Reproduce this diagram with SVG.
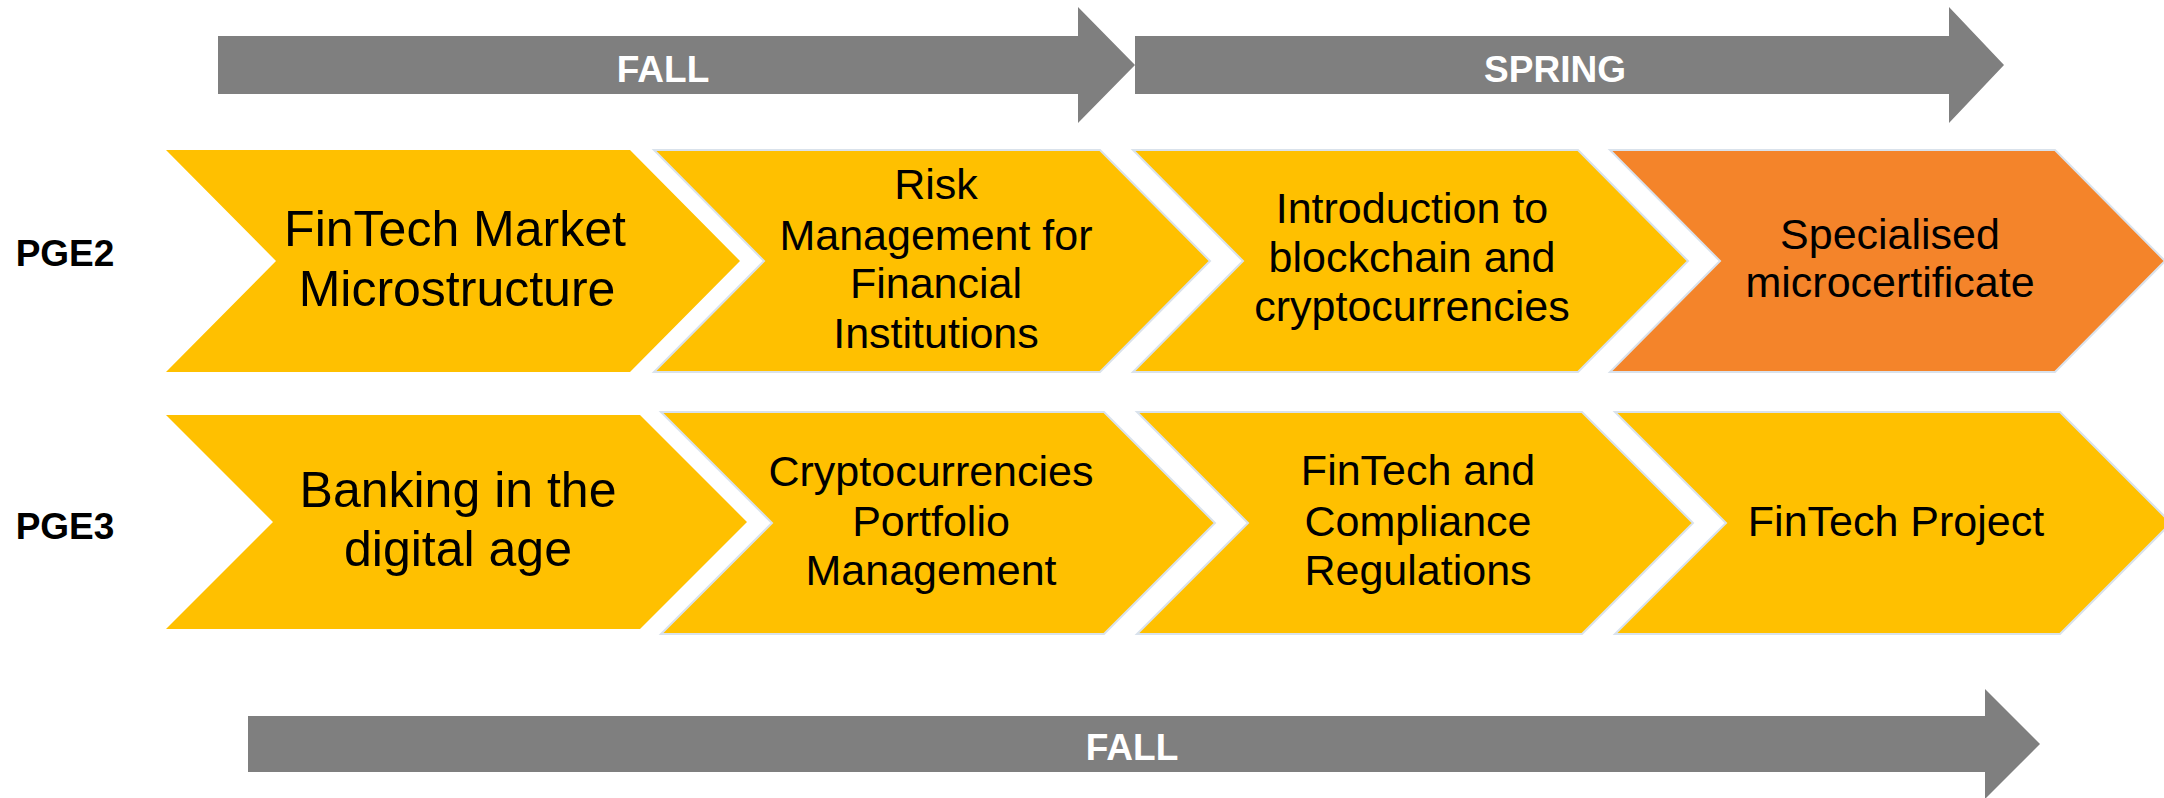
<svg xmlns="http://www.w3.org/2000/svg" width="2164" height="798" viewBox="0 0 2164 798">
<style>
.bar{fill:#7f7f7f}
.bt{font-family:"Liberation Sans",Arial,sans-serif;font-weight:bold;font-size:37px;fill:#fff;text-anchor:middle}
.lbl{font-family:"Liberation Sans",Arial,sans-serif;font-weight:bold;font-size:37px;fill:#000;text-anchor:middle}
.y{fill:#ffc000}
.o{fill:#f4842a}
.s{stroke:#d9e2ec;stroke-width:2}
.t{font-family:"Liberation Sans",Arial,sans-serif;font-size:43px;fill:#000;text-anchor:middle}
.tl{font-family:"Liberation Sans",Arial,sans-serif;font-size:50px;fill:#000;text-anchor:middle}
</style>
<rect width="2164" height="798" fill="#fff"/>
<g id="timeline-fall-top">
<polygon class="bar" points="218,36 1078,36 1078,7 1135,65 1078,123 1078,94 218,94"/>
<text class="bt" x="663" y="82">FALL</text>
</g>
<g id="timeline-spring">
<polygon class="bar" points="1135,36 1949,36 1949,7 2004,65 1949,123 1949,94 1135,94"/>
<text class="bt" x="1555" y="82">SPRING</text>
</g>
<g id="timeline-fall-bottom">
<polygon class="bar" points="248,716 1985,716 1985,689 2040,744 1985,799 1985,772 248,772"/>
<text class="bt" x="1132" y="760">FALL</text>
</g>
<g id="label-pge2"><text class="lbl" x="65" y="266">PGE2</text></g>
<g id="label-pge3"><text class="lbl" x="65" y="539">PGE3</text></g>
<g id="pge2-1">
<polygon class="y" points="166,150 630,150 740,261 630,372 166,372 276,261"/>
<text class="tl" x="455" y="246">FinTech Market</text>
<text class="tl" x="457" y="306">Microstructure</text>
</g>
<g id="pge2-2">
<polygon class="y s" points="654,150 1100,150 1210,261 1100,372 654,372 764,261"/>
<text class="t" x="936" y="199">Risk</text>
<text class="t" x="936" y="250">Management for</text>
<text class="t" x="936" y="298">Financial</text>
<text class="t" x="936" y="348">Institutions</text>
</g>
<g id="pge2-3">
<polygon class="y s" points="1133,150 1578,150 1688,261 1578,372 1133,372 1243,261"/>
<text class="t" x="1412" y="223">Introduction to</text>
<text class="t" x="1412" y="272">blockchain and</text>
<text class="t" x="1412" y="321">cryptocurrencies</text>
</g>
<g id="pge2-4">
<polygon class="o s" points="1610,150 2055,150 2165,261 2055,372 1610,372 1720,261"/>
<text class="t" x="1890" y="249">Specialised</text>
<text class="t" x="1890" y="297">microcertificate</text>
</g>
<g id="pge3-1">
<polygon class="y" points="166,415 640,415 747,522 640,629 166,629 273,522"/>
<text class="tl" x="458" y="507">Banking in the</text>
<text class="tl" x="458" y="566">digital age</text>
</g>
<g id="pge3-2">
<polygon class="y s" points="661,412 1104,412 1215,523 1104,634 661,634 772,523"/>
<text class="t" x="931" y="486">Cryptocurrencies</text>
<text class="t" x="931" y="536">Portfolio</text>
<text class="t" x="931" y="585">Management</text>
</g>
<g id="pge3-3">
<polygon class="y s" points="1137,412 1582,412 1693,523 1582,634 1137,634 1248,523"/>
<text class="t" x="1418" y="485">FinTech and</text>
<text class="t" x="1418" y="536">Compliance</text>
<text class="t" x="1418" y="585">Regulations</text>
</g>
<g id="pge3-4">
<polygon class="y s" points="1615,412 2060,412 2171,523 2060,634 1615,634 1726,523"/>
<text class="t" x="1896" y="536">FinTech Project</text>
</g>
<g id="connectors"></g>
</svg>
